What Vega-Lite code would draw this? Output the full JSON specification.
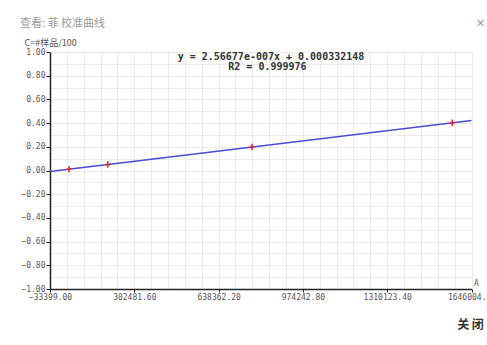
{
  "$schema": "https://vega.github.io/schema/vega-lite/v6.json",
  "width": 421.5,
  "height": 237,
  "autosize": "none",
  "padding": {"left": 50, "top": 52, "right": 15.5, "bottom": 56},
  "background": "white",
  "title": {
    "text": "查看: 菲 校准曲线",
    "anchor": "start",
    "frame": "group",
    "dx": -30,
    "dy": 21,
    "offset": 8,
    "font": "Noto Sans CJK SC",
    "fontSize": 11,
    "fontWeight": "normal",
    "color": "#999999"
  },
  "config": {
    "view": {"stroke": null}
  },
  "datasets": {
    "fit": [
      {"area": -33399, "conc": -0.00824},
      {"area": 1646004, "conc": 0.42282}
    ],
    "standards": [
      {"area": 42300, "conc": 0.0112},
      {"area": 196500, "conc": 0.0508},
      {"area": 771400, "conc": 0.1984},
      {"area": 1569500, "conc": 0.4032}
    ],
    "equation": [
      {"label": "y = 2.56677e-007x + 0.000332148"}
    ],
    "r2": [
      {"label": "R2 = 0.999976"}
    ]
  },
  "layer": [
    {
      "data": {"name": "fit"},
      "mark": {"type": "line", "color": "#4b4bd2", "strokeWidth": 1.5},
      "encoding": {
        "x": {
          "field": "area",
          "type": "quantitative",
          "scale": {"domain": [-33399, 1646004], "nice": false, "zero": false},
          "axis": {
            "orient": "bottom",
            "grid": true,
            "gridColor": "#d6d6d6",
            "gridDash": [1, 1],
            "gridWidth": 1,
            "labels": false,
            "ticks": false,
            "domain": false,
            "values": [-33399, 33777.12, 100953.24, 168129.36, 235305.48, 302481.6, 369657.72, 436833.84, 504009.96, 571186.08, 638362.2, 705538.32, 772714.44, 839890.56, 907066.68, 974242.8, 1041418.92, 1108595.04, 1175771.16, 1242947.28, 1310123.4, 1377299.52, 1444475.64, 1511651.76, 1578827.88, 1646004],
            "title": "关 闭",
            "titleX": 420,
            "titleY": 35,
            "titleAlign": "center",
            "titleBaseline": "middle",
            "titleFont": "Noto Sans CJK SC",
            "titleFontSize": 12,
            "titleFontWeight": "bold",
            "titleColor": "#333333"
          }
        },
        "y": {
          "field": "conc",
          "type": "quantitative",
          "scale": {"domain": [-1, 1], "nice": false, "zero": false},
          "axis": {
            "orient": "left",
            "grid": true,
            "gridColor": "#d6d6d6",
            "gridDash": [1, 1],
            "gridWidth": 1,
            "labels": false,
            "ticks": false,
            "domain": false,
            "values": [-1, -0.9, -0.8, -0.7, -0.6, -0.5, -0.4, -0.3, -0.2, -0.1, 0, 0.1, 0.2, 0.3, 0.4, 0.5, 0.6, 0.7, 0.8, 0.9, 1],
            "title": "×",
            "titleAngle": 0,
            "titleX": 430,
            "titleY": -30,
            "titleAlign": "center",
            "titleBaseline": "middle",
            "titleFont": "DejaVu Sans",
            "titleFontSize": 12,
            "titleFontWeight": "normal",
            "titleColor": "#9a9a9a"
          }
        }
      }
    },
    {
      "data": {"name": "standards"},
      "mark": {"type": "point", "shape": "M-0.7,0H0.7M0,-1V1", "size": 40, "filled": false, "color": "#e8202a", "strokeWidth": 1.5, "opacity": 1},
      "encoding": {
        "x": {
          "field": "area",
          "type": "quantitative",
          "axis": {
            "orient": "bottom",
            "grid": false,
            "values": [-33399, 302481.6, 638362.2, 974242.8, 1310123.4, 1646004],
            "format": ".2f",
            "labelFont": "DejaVu Sans Mono",
            "labelFontSize": 8,
            "labelColor": "#555555",
            "labelPadding": 1,
            "labelFlush": false,
            "labelOverlap": false,
            "labelBound": false,
            "tickSize": 3,
            "tickColor": "#222222",
            "domainColor": "#222222",
            "domainWidth": 1.5,
            "title": "A",
            "titleX": 426,
            "titleY": -2,
            "titleAlign": "center",
            "titleBaseline": "bottom",
            "titleFont": "DejaVu Sans Mono",
            "titleFontSize": 8,
            "titleFontWeight": "normal",
            "titleColor": "#555555"
          }
        },
        "y": {
          "field": "conc",
          "type": "quantitative",
          "axis": {
            "orient": "left",
            "grid": false,
            "values": [-1, -0.8, -0.6, -0.4, -0.2, 0, 0.2, 0.4, 0.6, 0.8, 1],
            "format": ".2f",
            "labelFont": "DejaVu Sans Mono",
            "labelFontSize": 8,
            "labelColor": "#555555",
            "labelPadding": 1,
            "labelFlush": false,
            "labelOverlap": false,
            "labelBound": false,
            "tickSize": 4,
            "tickColor": "#222222",
            "domainColor": "#222222",
            "domainWidth": 1.5,
            "title": "C=#样品/100",
            "titleAngle": 0,
            "titleX": -26,
            "titleY": -7,
            "titleAlign": "left",
            "titleBaseline": "alphabetic",
            "titleFont": "Noto Sans CJK SC",
            "titleFontSize": 9,
            "titleFontWeight": "normal",
            "titleColor": "#555555"
          }
        }
      }
    },
    {
      "data": {"name": "equation"},
      "mark": {"type": "text", "font": "DejaVu Sans Mono", "fontSize": 10, "fontWeight": "bold", "color": "#333333", "align": "center", "baseline": "middle"},
      "encoding": {
        "x": {"datum": 847000, "type": "quantitative", "axis": null},
        "y": {"datum": 0.958, "type": "quantitative", "axis": null},
        "text": {"field": "label"}
      }
    },
    {
      "data": {"name": "r2"},
      "mark": {"type": "text", "font": "DejaVu Sans Mono", "fontSize": 10, "fontWeight": "bold", "color": "#333333", "align": "center", "baseline": "middle"},
      "encoding": {
        "x": {"datum": 833000, "type": "quantitative", "axis": null},
        "y": {"datum": 0.876, "type": "quantitative", "axis": null},
        "text": {"field": "label"}
      }
    }
  ],
  "resolve": {"axis": {"x": "independent", "y": "independent"}}
}
